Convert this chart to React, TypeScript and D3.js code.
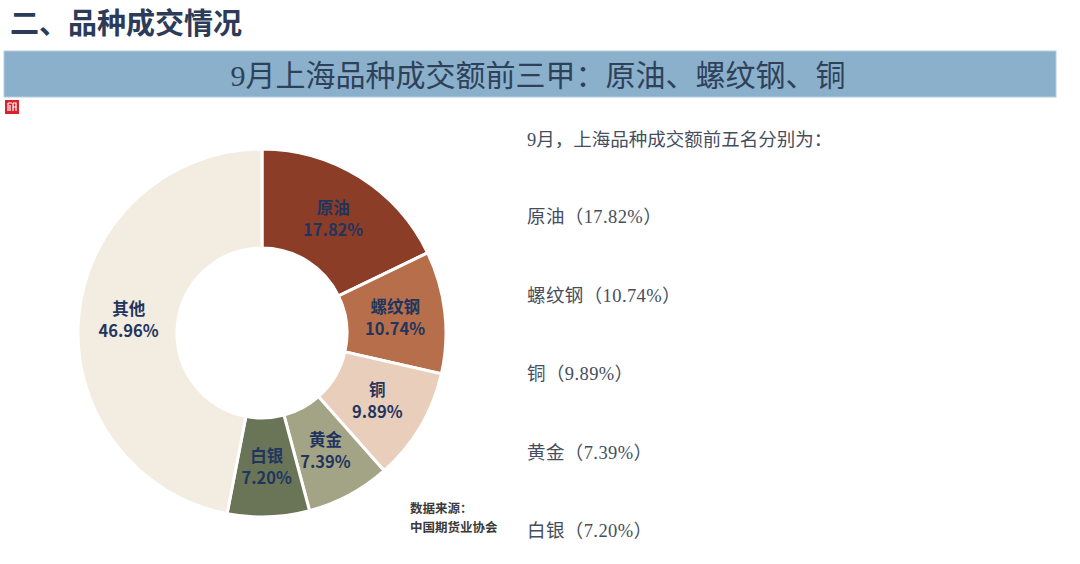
import React from 'react'
import * as d3 from 'd3'

// 9月上海品种成交额占比
const names = ['原油', '螺纹钢', '铜', '黄金', '白银', '其他']
const shares = [17.82, 10.74, 9.89, 7.39, 7.20, 46.96]
const colors = ['#8B3D27', '#B76E4A', '#E8CEBB', '#A3A485', '#6A7557', '#F3ECE1']
const topFive = ['原油', '螺纹钢', '铜', '黄金', '白银']
const topFiveShares = ['17.82%', '10.74%', '9.89%', '7.39%', '7.20%']

const W = 1080
const H = 564
const cx = 262
const cy = 333
const outerR = 184
const innerR = 85

export default function App() {
  let pie = d3.pie<number>().sort(null).value(d => d)
  let arcs = pie(shares)
  let arc = d3.arc<d3.PieArcDatum<number>>().innerRadius(innerR).outerRadius(outerR)
  let labelArc = d3.arc<d3.PieArcDatum<number>>().innerRadius(134).outerRadius(134)

  let listY = d3.scaleLinear().domain([0, topFive.length - 1]).range([223, 537])

  return (
    <div style={{position: 'absolute', left: 0, top: 0}}>
      <svg width={W} height={H} style={{display: 'block', background: '#fff'}}>
        <text x={10} y={34} fontSize={29} fontWeight="bold" fill="#2B3B58"
          fontFamily="'Noto Sans CJK SC', sans-serif">二、品种成交情况</text>

        <rect x={4} y={51} width={1052} height={46} fill="#8AB0CC" stroke="#B5CEE0" strokeWidth={1} />
        <text x={538} y={86} fontSize={30} textAnchor="middle" fill="#2F4159"
          fontFamily="'Liberation Serif', 'Noto Sans CJK SC', serif">9月上海品种成交额前三甲：原油、螺纹钢、铜</text>

        <g transform="translate(5,100)">
          <rect width={14} height={14} fill="#D9222B" />
          <path d="M3,3 H7 M3,3 V11 M5,5 V11 M8,3 H11 V11 M8,3 V11 M8,7 H11"
            stroke="#fff" strokeWidth={1.2} fill="none" />
        </g>

        <g transform={`translate(${cx},${cy})`}>
          {arcs.map((a, i) => (
            <path key={names[i]} d={arc(a) || ''} fill={colors[i]} stroke="#fff" strokeWidth={3} />
          ))}
          {arcs.map((a, i) => {
            let [lx, ly] = labelArc.centroid(a)
            return (
              <text key={'l' + names[i]} x={lx} y={ly} textAnchor="middle" fill="#1F355E"
                fontSize={16.5} fontWeight="bold" fontFamily="'Noto Sans CJK SC', 'Open Sans', sans-serif">
                <tspan x={lx} dy={-5}>{names[i]}</tspan>
                <tspan x={lx} dy={22}>{shares[i].toFixed(2)}%</tspan>
              </text>
            )
          })}
        </g>

        <text x={410} y={513} fontSize={12.5} fontWeight="bold" fill="#3A3A3A"
          fontFamily="'Noto Sans CJK SC', sans-serif">数据来源：</text>
        <text x={410} y={532} fontSize={12.5} fontWeight="bold" fill="#3A3A3A"
          fontFamily="'Noto Sans CJK SC', sans-serif">中国期货业协会</text>

        <g fontFamily="'Liberation Serif', 'Noto Sans CJK SC', serif" fontSize={18.5} fill="#454E5E">
          <text x={527} y={146}>9月，上海品种成交额前五名分别为：</text>
          {topFive.map((n, i) => (
            <text key={n} x={527} y={listY(i)} letterSpacing={0.4}>{n}（{topFiveShares[i]}）</text>
          ))}
        </g>
      </svg>
    </div>
  )
}
